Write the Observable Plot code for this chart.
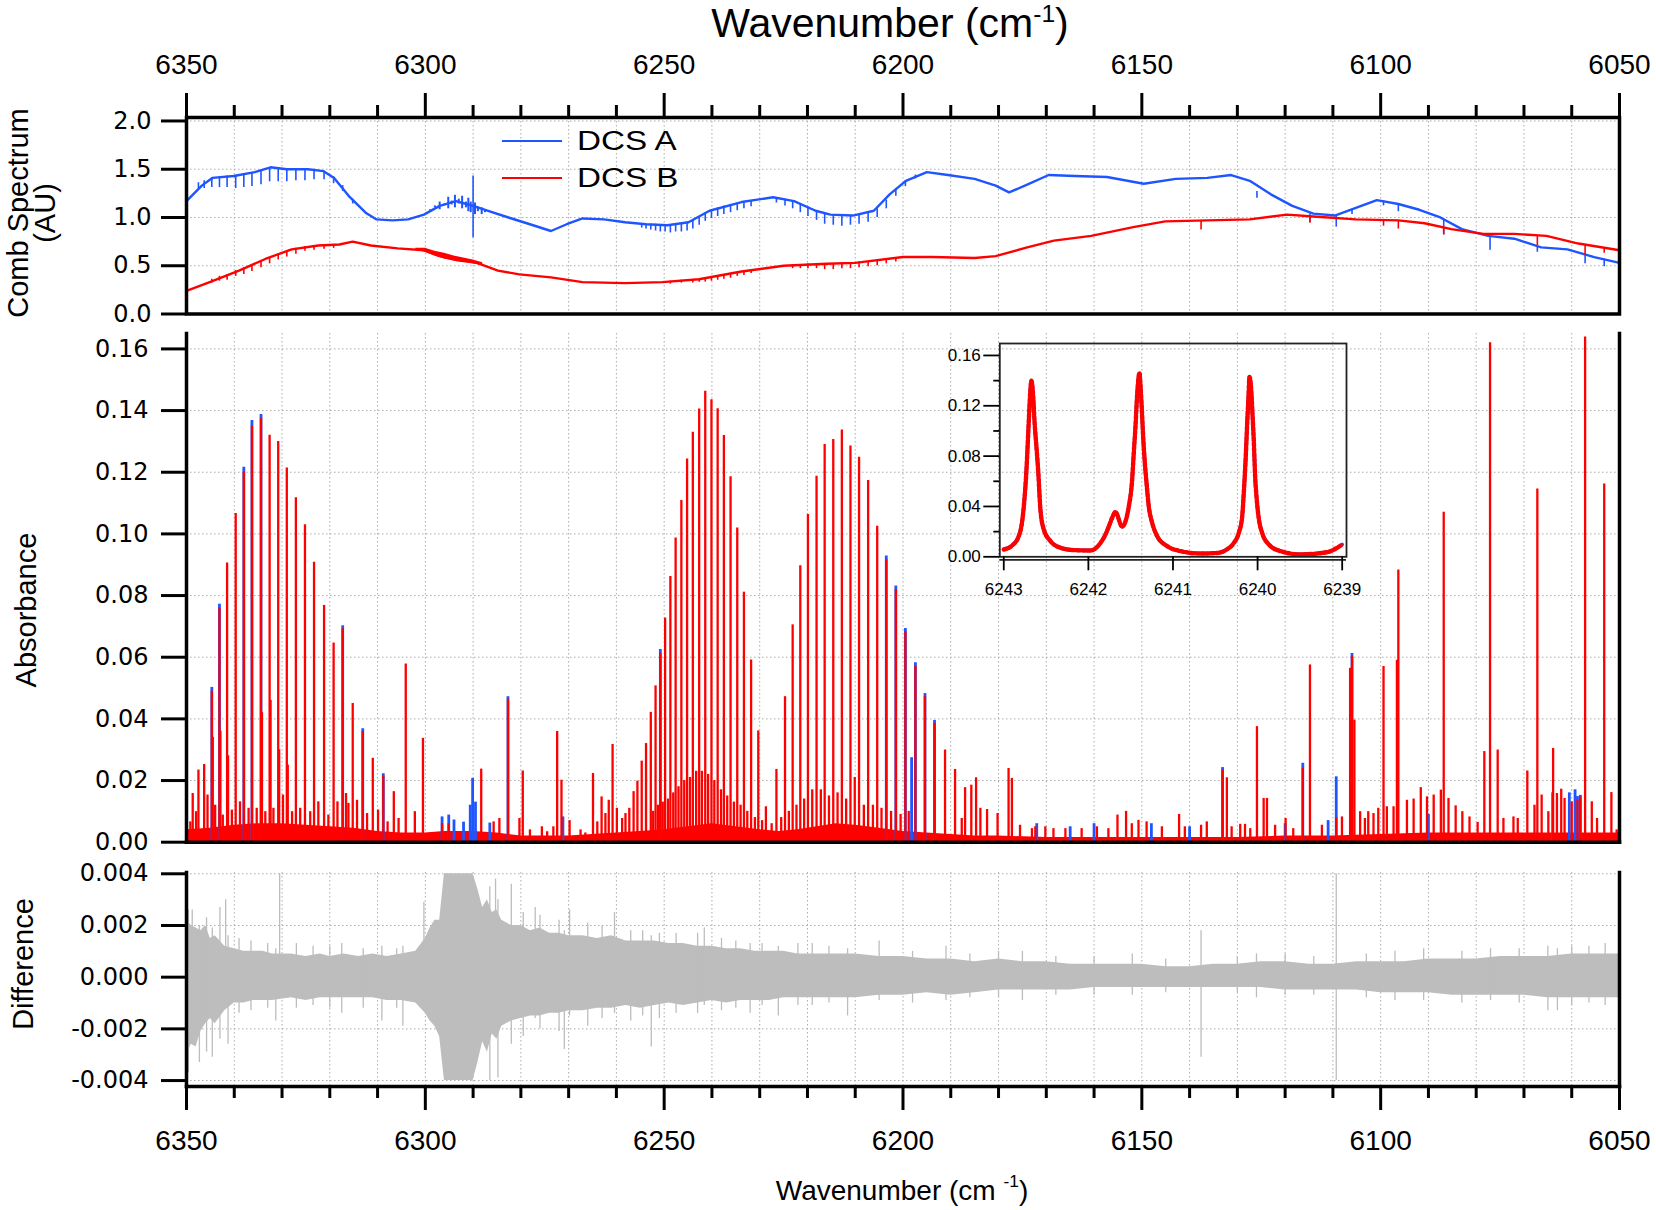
<!DOCTYPE html>
<html><head><meta charset="utf-8">
<script src="https://cdn.jsdelivr.net/npm/d3@7"></script>
<script src="https://cdn.jsdelivr.net/npm/@observablehq/plot@0.6"></script>
<style>
body{margin:0;background:#fff;}
#wrap{position:relative;width:1656px;height:1210px;overflow:hidden;font-family:"Liberation Sans",Arial,sans-serif;color:#000;}
.abs{position:absolute;white-space:nowrap;}
svg{position:absolute;}
</style></head><body><div id="wrap"></div>
<script>
// ---------- axis ticks ----------
const xMajor = [6350, 6300, 6250, 6200, 6150, 6100, 6050];
const xMinor = [6340,6330,6320,6310,6290,6280,6270,6260,6240,6230,6220,6210,6190,6180,6170,6160,6140,6130,6120,6110,6090,6080,6070,6060];
const xGrid = [6340,6330,6320,6310,6300,6290,6280,6270,6260,6250,6240,6230,6220,6210,6200,6190,6180,6170,6160,6150,6140,6130,6120,6110,6100,6090,6080,6070,6060];
const combTicks = [0, 0.5, 1.0, 1.5, 2.0];
const absTicks = [0, 0.02, 0.04, 0.06, 0.08, 0.10, 0.12, 0.14, 0.16];
const diffTicks = [-0.004, -0.002, 0, 0.002, 0.004];
const insetXTicks = [6243, 6242, 6241, 6240, 6239];
const insetYTicks = [0, 0.04, 0.08, 0.12, 0.16];
const insetYMinor = [0.02, 0.06, 0.10, 0.14];

// ---------- top panel: comb spectra ----------
const combAwn = [6350,6346.8,6344.6,6340.1,6335.7,6332.4,6329,6324.6,6321.3,6319.1,6315.8,6312.5,6310.2,6306.9,6303.6,6300.3,6297,6293.6,6291.4,6290,6287,6282.6,6278.1,6273.7,6270.4,6267.1,6262.6,6258.2,6253.8,6249.3,6244.9,6240.5,6233.8,6227.2,6222.8,6218.3,6215.2,6210.5,6206.1,6202.8,6199.4,6195,6190.6,6185,6180.6,6177.8,6174,6169.5,6164,6157.3,6149.6,6142.9,6136.3,6131.3,6127.4,6123,6118.5,6114.1,6109.6,6105.2,6100.8,6096.3,6091.9,6087.5,6083,6077.5,6072,6066.4,6060.9,6055.3,6050];
const combA = [1.17,1.33,1.41,1.43,1.47,1.52,1.50,1.50,1.48,1.41,1.21,1.05,0.98,0.97,0.98,1.03,1.12,1.17,1.14,1.12,1.07,1.00,0.93,0.86,0.93,0.99,0.98,0.95,0.93,0.92,0.95,1.07,1.16,1.21,1.17,1.07,1.03,1.02,1.07,1.24,1.38,1.47,1.44,1.40,1.33,1.26,1.34,1.44,1.43,1.42,1.35,1.40,1.41,1.44,1.38,1.24,1.12,1.04,1.02,1.10,1.18,1.14,1.08,1.00,0.88,0.81,0.78,0.69,0.67,0.59,0.53];
const combBwn = [6350,6344.6,6339,6333.5,6328,6322.4,6318,6315.2,6311.4,6305.8,6300.3,6297,6293.6,6289.2,6284.8,6280.3,6273.7,6267.1,6258.2,6250.4,6242.7,6233.8,6225,6216,6210,6200,6193.9,6185,6180.6,6174,6168.4,6160.6,6151.8,6145.1,6136.3,6127.4,6119.6,6114.1,6105.2,6096.3,6090.8,6085.2,6078.5,6072,6065.3,6058.6,6050];
const combB = [0.24,0.34,0.45,0.57,0.67,0.71,0.72,0.75,0.71,0.68,0.66,0.60,0.56,0.53,0.45,0.41,0.38,0.33,0.32,0.33,0.36,0.44,0.50,0.52,0.53,0.59,0.59,0.58,0.60,0.69,0.76,0.81,0.90,0.96,0.97,0.98,1.03,1.01,0.98,0.97,0.94,0.88,0.83,0.83,0.81,0.73,0.66];
// comb-line dips: position, top, bottom
const dipAwn = [6347.5,6346.3,6344.7,6343.1,6341.5,6339.7,6338.0,6336.3,6334.4,6332.6,6330.8,6329.0,6327.1,6325.2,6323.3,6321.2,6319.2,6317.3,6315.2,6254.7,6253.8,6252.8,6251.8,6250.8,6249.8,6248.7,6247.6,6246.4,6245.2,6244.0,6242.67,6241.4,6240.1,6238.8,6237.5,6236.1,6234.7,6233.3,6231.8,6226.5,6224.7,6223.1,6221.5,6219.9,6218.1,6216.4,6214.6,6212.8,6211.0,6209.2,6207.3,6205.4,6203.5,6201.5,6199.5,6197.4,6125.9,6114.8,6109.3,6106.0,6099.4,6096.3,6086.8,6077.1,6067.2,6057.2,6053.2];
const dipAhi = [1.36,1.38,1.41,1.42,1.43,1.43,1.44,1.46,1.49,1.51,1.51,1.50,1.50,1.50,1.50,1.48,1.42,1.33,1.19,0.93,0.93,0.93,0.93,0.92,0.92,0.92,0.93,0.93,0.95,0.97,1.01,1.05,1.08,1.10,1.12,1.13,1.15,1.16,1.17,1.20,1.19,1.17,1.14,1.11,1.07,1.04,1.03,1.02,1.02,1.03,1.05,1.09,1.18,1.30,1.38,1.44,1.27,1.04,1.02,1.08,1.17,1.14,0.98,0.81,0.70,0.62,0.57];
const dipAlo = [1.30,1.30,1.31,1.31,1.31,1.30,1.31,1.32,1.34,1.37,1.37,1.37,1.38,1.38,1.39,1.39,1.35,1.27,1.14,0.89,0.88,0.87,0.86,0.85,0.85,0.84,0.85,0.85,0.86,0.88,0.92,0.96,0.99,1.01,1.03,1.05,1.07,1.09,1.11,1.15,1.12,1.09,1.05,1.01,0.97,0.93,0.92,0.91,0.92,0.93,0.95,1.00,1.09,1.22,1.32,1.40,1.20,0.95,0.90,1.03,1.12,1.06,0.82,0.66,0.64,0.52,0.49];
const dipBwn = [6344.7,6343.1,6341.5,6339.7,6338.0,6336.3,6334.4,6332.6,6330.8,6329.0,6327.1,6325.2,6323.3,6321.2,6319.2,6248.7,6246.4,6244.0,6242.67,6241.4,6240.1,6238.8,6237.5,6236.1,6234.7,6233.3,6231.8,6223.1,6221.5,6219.9,6218.1,6216.4,6214.6,6212.8,6211.0,6209.2,6207.3,6205.4,6203.5,6201.5,6137.6,6114.8,6099.4,6096.3,6086.8,6067.2,6057.2,6053.2];
const dipBhi = [0.36,0.39,0.41,0.45,0.48,0.51,0.55,0.58,0.62,0.65,0.68,0.70,0.71,0.71,0.72,0.34,0.35,0.35,0.36,0.37,0.38,0.39,0.40,0.41,0.43,0.44,0.45,0.51,0.51,0.52,0.52,0.52,0.52,0.53,0.53,0.54,0.54,0.55,0.56,0.58,0.97,1.01,0.98,0.97,0.89,0.81,0.71,0.68];
const dipBlo = [0.32,0.34,0.35,0.39,0.41,0.44,0.48,0.52,0.56,0.59,0.62,0.65,0.66,0.67,0.68,0.31,0.32,0.32,0.33,0.33,0.34,0.35,0.36,0.37,0.39,0.40,0.42,0.47,0.47,0.47,0.47,0.46,0.46,0.47,0.47,0.48,0.49,0.50,0.52,0.54,0.87,0.94,0.91,0.88,0.82,0.71,0.61,0.63];
// noisy stretches near 6295 cm-1 (position, low, high)
const noiseAwn = [6299,6298,6297,6296,6295.2,6294.5,6293.8,6293,6292.3,6291.5,6291,6290.5,6289.6,6289,6288.2,6287.5];
const noiseAlo = [1.06,1.10,1.08,1.12,1.09,1.13,1.10,1.14,1.09,1.10,1.06,1.05,1.03,1.06,1.03,1.05];
const noiseAhi = [1.08,1.12,1.16,1.14,1.21,1.17,1.23,1.19,1.22,1.16,1.20,1.16,1.15,1.11,1.10,1.08];
const noiseBwn = [6302,6300,6298,6296,6294,6292,6290,6288];
const noiseBlo = [0.66,0.64,0.60,0.57,0.55,0.54,0.52,0.50];
const noiseBhi = [0.68,0.68,0.65,0.63,0.60,0.58,0.56,0.53];
const spikeAwn = [6290.0];
const spikeAlo = [0.79];
const spikeAhi = [1.43];

// ---------- middle panel: absorbance (DCS B red, DCS A blue) ----------
const peakWn = [6348.7,6347.5,6346.3,6344.7,6343.1,6341.5,6339.7,6338.0,6336.3,6334.4,6332.6,6330.8,6329.0,6327.1,6325.2,6323.3,6321.2,6319.2,6317.3,6315.2,6313.1,6311.0,6308.8,6306.6,6304.1,6302.2,6300.5,
 6349.2,6348.0,6345.6,6344.0,6342.4,6340.5,6338.8,6337.0,6335.3,6333.5,6331.8,6329.8,6327.9,6326.2,6324.1,6322.4,6320.3,6318.4,6316.6,6316.1,6314.3,6312.2,6309.9,6307.9,6305.6,
 6344.5,6342.9,6341.3,6334.2,6332.4,6330.6,6328.8,
 6296.5,6295.1,6288.3,6285.7,6284.5,6282.7,6280.3,6279.6,6278.1,6275.6,6274.5,6273.2,6272.4,6271.5,6269.8,6267.5,6266.5,6264.9,6264.0,6263.1,6262.3,6261.6,6260.8,6259.9,6258.8,6258.1,6257.3,6256.4,6255.6,
 6254.7,6253.8,6252.8,6251.8,6250.8,6249.8,6248.7,6247.6,6246.4,6245.2,6244.0,6242.67,6241.4,6240.1,6238.8,6237.5,6236.1,6234.7,6233.3,6231.8,6230.3,6228.7,
 6252.3,6251.3,6250.3,6249.2,6248.1,6247.0,6245.8,6244.6,6243.3,6242.1,6240.8,6239.5,6238.1,6236.8,6235.4,6234.0,6232.6,6231.0,6229.5,6227.5,
 6226.5,6224.7,6223.1,6221.5,6219.9,6218.1,6216.4,6214.6,6212.8,6211.0,6209.2,6207.3,6205.4,6203.5,6201.5,6199.5,6197.4,6195.4,6193.4,6191.2,6189.1,6187.0,6185.7,6184.7,6182.4,6180.2,6177.9,6177.2,
 6225.5,6223.9,6222.3,6220.7,6219.0,6217.2,6215.5,6213.7,6211.9,6210.1,6208.2,6206.3,6204.5,6202.5,6200.5,6198.8,6187.7,6183.8,6175.5,6173.0,6170.2,6166.0,6159.4,6157.0,6152.1,6149.0,6145.8,6141.0,6136.4,6131.2,6127.3,
 6172.3,6168.5,6162.6,6155.1,6153.3,6150.7,6142.2,6137.6,6133.1,6132.2,6129.4,6128.4,6125.9,6124.5,6123.8,6122.1,6119.9,6118.3,6116.3,6114.8,6112.3,6109.3,6108.1,6106.4,6106.0,6105.5,6104.3,6103.3,6102.6,6101.5,6100.5,6099.4,6098.7,6097.3,6096.6,6096.3,
 6094.5,6093.1,6091.6,6090.3,6088.9,6087.4,6086.8,6085.8,6084.3,6082.9,6081.4,6079.7,6078.3,6077.1,6075.5,6074.3,6072.2,6071.3,6069.3,6067.8,6067.2,6066.3,6064.9,6063.9,6063.1,6062.2,6061.5,6060.0,6058.8,6058.2,6057.2,6055.8,6054.7,6053.2,6051.7,6050.6];
const peakAbs = [0.0158,0.0234,0.0252,0.049,0.076,0.0906,0.1066,0.120,0.135,0.1375,0.132,0.130,0.1214,0.1117,0.103,0.0908,0.0768,0.0646,0.0692,0.045,0.0359,0.0272,0.0214,0.0164,0.0578,0.0099,0.0337,
 0.0066,0.0099,0.0153,0.012,0.0088,0.0104,0.0131,0.011,0.011,0.0099,0.011,0.0153,0.0099,0.011,0.0099,0.0131,0.0088,0.0131,0.0158,0.0126,0.0136,0.0093,0.0104,0.0066,0.0077,
 0.034,0.036,0.028,0.042,0.046,0.030,0.025,
 0.006,0.006,0.0237,0.0066,0.0077,0.0464,0.0077,0.0231,0.004,0.005,0.0034,0.005,0.0359,0.0201,0.007,0.004,0.003,0.0223,0.0066,0.0147,0.0093,0.0136,0.0317,0.011,0.0077,0.0093,0.011,0.0164,0.0198,
 0.0263,0.032,0.0421,0.0507,0.0613,0.0727,0.0862,0.0987,0.1108,0.1243,0.133,0.1405,0.1463,0.1435,0.1406,0.1319,0.1185,0.1019,0.0811,0.0591,0.0361,0.0115,
 0.010,0.012,0.013,0.014,0.016,0.018,0.020,0.021,0.023,0.023,0.022,0.020,0.017,0.015,0.013,0.012,0.010,0.008,0.007,0.006,
 0.0236,0.0472,0.0705,0.0897,0.1063,0.1187,0.129,0.1306,0.1337,0.1285,0.1249,0.1173,0.1025,0.0916,0.0819,0.0683,0.057,0.0472,0.0386,0.0299,0.0236,0.0177,0.0185,0.0209,0.0106,0.0093,0.0239,0.0207,
 0.008,0.010,0.012,0.014,0.017,0.017,0.015,0.016,0.014,0.021,0.012,0.012,0.011,0.010,0.009,0.010,0.0077,0.011,0.0055,0.0044,0.005,0.0044,0.005,0.0044,0.006,0.0066,0.005,0.005,0.0066,0.005,0.0044,
 0.005,0.0044,0.0044,0.0088,0.010,0.0071,0.009,0.0055,0.0234,0.0209,0.0058,0.0058,0.0375,0.0142,0.0142,0.0055,0.0077,0.0044,0.024,0.0575,0.0055,0.008,0.0082,0.0564,0.0602,0.0396,0.0099,0.0077,0.0099,0.0093,0.011,0.057,0.0115,0.0115,0.059,0.0883,
 0.0136,0.014,0.0177,0.0147,0.0153,0.0169,0.107,0.0142,0.0118,0.0099,0.0082,0.0064,0.0294,0.162,0.0299,0.0077,0.0082,0.0077,0.0231,0.012,0.1146,0.0153,0.0099,0.0304,0.0158,0.0172,0.0142,0.0131,0.0136,0.0147,0.1639,0.0131,0.0077,0.1162,0.0161,0.004];
// where DCS A (blue) shows above DCS B
const blueWn = [6344.7,6343.1,6338.0,6336.3,6334.4,6317.3,6313.1,6308.8,6296.5,6295.1,6294.0,6292.0,6290.6,6290.1,6289.5,6286.5,6282.7,6271.2,6250.8,6203.5,6201.5,6199.5,6198.2,6197.4,6195.4,6193.4,6172.0,6165.0,6160.0,6148.0,6140.0,6133.1,6120.0,6116.3,6111.0,6109.3,6106.0,6090.0,6064.0,6060.5,6059.3,6058.8,6058.2];
const blueAbs = [0.0502,0.0772,0.1216,0.1368,0.1387,0.0702,0.0368,0.0222,0.0082,0.0088,0.0072,0.0065,0.012,0.0207,0.013,0.0062,0.0472,0.0082,0.0625,0.0928,0.0831,0.0693,0.0274,0.0582,0.0482,0.0395,0.006,0.005,0.006,0.006,0.005,0.0242,0.006,0.0256,0.007,0.0212,0.0612,0.009,0.016,0.016,0.017,0.0148,0.0152];
// dense low-level absorption floor
const baseWn = [6350,6345,6340,6335,6330,6325,6320,6315,6310,6305,6300,6296,6290,6285,6280,6275,6270,6265,6260,6255,6250,6245,6240,6235,6230,6226,6222,6218,6214,6210,6205,6200,6195,6190,6185,6180,6170,6150,6130,6120,6110,6100,6090,6080,6070,6060,6050];
const baseAbs = [0.004,0.0045,0.0055,0.006,0.006,0.0055,0.005,0.0045,0.0035,0.003,0.003,0.0035,0.0035,0.003,0.002,0.002,0.002,0.0025,0.003,0.0035,0.004,0.005,0.006,0.005,0.004,0.0035,0.004,0.005,0.006,0.0055,0.0045,0.0035,0.003,0.0025,0.002,0.002,0.0015,0.0015,0.0015,0.002,0.002,0.0025,0.003,0.003,0.003,0.003,0.003];

// ---------- inset: zoom on 6243-6239 cm-1 ----------
const insetWn = [6243.000,6242.901,6242.823,6242.783,6242.756,6242.732,6242.716,6242.700,6242.685,6242.673,6242.653,6242.637,6242.610,6242.594,6242.567,6242.527,6242.448,6242.330,6242.172,6241.975,6241.857,6241.798,6241.759,6241.719,6241.680,6241.601,6241.522,6241.483,6241.463,6241.443,6241.424,6241.396,6241.384,6241.369,6241.353,6241.333,6241.313,6241.286,6241.246,6241.187,6241.069,6240.911,6240.675,6240.478,6240.360,6240.281,6240.222,6240.182,6240.163,6240.143,6240.123,6240.107,6240.096,6240.076,6240.060,6240.044,6240.029,6240.013,6239.985,6239.946,6239.867,6239.729,6239.493,6239.177,6239.059,6239.000];
const insetAbs = [0.0058,0.009,0.0164,0.028,0.0456,0.069,0.091,0.114,0.133,0.140,0.128,0.108,0.084,0.069,0.0376,0.0217,0.0125,0.0072,0.0053,0.005,0.011,0.0177,0.024,0.031,0.0355,0.024,0.040,0.061,0.083,0.104,0.128,0.146,0.136,0.118,0.096,0.075,0.059,0.040,0.027,0.0164,0.0085,0.0045,0.0026,0.003,0.006,0.011,0.019,0.032,0.051,0.075,0.106,0.128,0.143,0.133,0.113,0.091,0.064,0.048,0.030,0.019,0.0098,0.0045,0.0019,0.0037,0.0072,0.0098];

// ---------- bottom panel: difference envelope ----------
const diffWn = [6350,6349,6348,6347,6346,6345,6344,6342,6340,6338,6336,6334,6332,6328,6325,6322,6320,6317,6314,6311,6308,6305,6302,6300,6299,6298,6297,6296,6290,6289,6288,6287,6286,6285,6284,6282,6280,6278,6276,6274,6272,6270,6267,6264,6261,6258,6255,6252,6249,6246,6243,6240,6237,6234,6231,6228,6225,6222,6218,6215,6210,6205,6200,6195,6190,6185,6180,6175,6170,6165,6160,6155,6150,6145,6140,6135,6130,6125,6120,6115,6110,6105,6100,6095,6090,6085,6080,6075,6070,6065,6060,6055,6050];
const diffHi = [0.0022,0.0020,0.0019,0.0018,0.0020,0.0015,0.0016,0.0012,0.0011,0.0010,0.0010,0.0010,0.0009,0.0009,0.0008,0.0009,0.0008,0.0009,0.0008,0.0009,0.0008,0.0009,0.0010,0.0015,0.0019,0.0022,0.0022,0.0040,0.0040,0.0034,0.0027,0.0030,0.0025,0.0026,0.0022,0.0020,0.0020,0.0018,0.0019,0.0017,0.0017,0.0016,0.0016,0.0015,0.0016,0.0014,0.0014,0.0014,0.0013,0.0013,0.0012,0.0012,0.0011,0.0011,0.0010,0.0010,0.0010,0.0009,0.0009,0.0009,0.0009,0.0008,0.0008,0.0007,0.0007,0.0006,0.0007,0.0006,0.0006,0.0005,0.0005,0.0005,0.0005,0.0004,0.0004,0.0005,0.0005,0.0006,0.0006,0.0005,0.0005,0.0006,0.0006,0.0006,0.0007,0.0007,0.0007,0.0008,0.0008,0.0008,0.0009,0.0009,0.0009];
const diffLo = [-0.0030,-0.0026,-0.0027,-0.0021,-0.0018,-0.0016,-0.0018,-0.0013,-0.0010,-0.0010,-0.0009,-0.0009,-0.0009,-0.0008,-0.0009,-0.0008,-0.0008,-0.0008,-0.0008,-0.0008,-0.0009,-0.0009,-0.0010,-0.0014,-0.0017,-0.0019,-0.0023,-0.0040,-0.0040,-0.0033,-0.0025,-0.0029,-0.0022,-0.0024,-0.0019,-0.0017,-0.0016,-0.0015,-0.0015,-0.0014,-0.0014,-0.0013,-0.0013,-0.0012,-0.0012,-0.0011,-0.0012,-0.0011,-0.0010,-0.0011,-0.0010,-0.0009,-0.0010,-0.0009,-0.0009,-0.0009,-0.0008,-0.0008,-0.0008,-0.0008,-0.0008,-0.0007,-0.0007,-0.0006,-0.0007,-0.0006,-0.0005,-0.0005,-0.0005,-0.0005,-0.0004,-0.0004,-0.0004,-0.0004,-0.0004,-0.0004,-0.0004,-0.0004,-0.0005,-0.0005,-0.0005,-0.0005,-0.0006,-0.0006,-0.0006,-0.0007,-0.0007,-0.0007,-0.0007,-0.0008,-0.0008,-0.0008,-0.0008];
const spikeWn = [6349.6,6348.8,6347.3,6345.8,6344.6,6343.0,6341.8,6341.3,6339.0,6336.5,6333.0,6331.3,6330.5,6327.0,6323.5,6320.0,6317.5,6313.0,6309.1,6306.0,6304.7,6300.3,6286.5,6285.3,6284.8,6282.0,6279.5,6277.0,6276.0,6272.0,6270.9,6269.8,6266.0,6263.0,6260.4,6257.0,6254.5,6252.7,6251.0,6247.5,6243.0,6241.6,6238.0,6235.0,6232.0,6229.5,6226.1,6222.0,6219.0,6215.5,6211.6,6205.0,6198.0,6191.0,6186.0,6180.0,6175.0,6168.0,6160.0,6152.0,6145.0,6137.6,6130.0,6126.0,6120.0,6114.0,6109.3,6103.0,6097.0,6091.0,6083.0,6077.0,6071.0,6065.0,6063.0,6060.0,6056.4,6053.0];
const spikeLo = [-0.0037,-0.0010,-0.0033,-0.0029,-0.0031,-0.0024,-0.0012,-0.0026,-0.0014,-0.0013,-0.0012,-0.0017,-0.0008,-0.0012,-0.0011,-0.0012,-0.0014,-0.0012,-0.0017,-0.0012,-0.0019,-0.0012,-0.0040,-0.0020,-0.0039,-0.0026,-0.0023,-0.0016,-0.0020,-0.0021,-0.0028,-0.0015,-0.0019,-0.0016,-0.0014,-0.0017,-0.0015,-0.0027,-0.0016,-0.0014,-0.0014,-0.0011,-0.0013,-0.0012,-0.0014,-0.0011,-0.0015,-0.0011,-0.0011,-0.0010,-0.0015,-0.0009,-0.0010,-0.0009,-0.0008,-0.0008,-0.0009,-0.0007,-0.0007,-0.0007,-0.0006,-0.0031,-0.0006,-0.0008,-0.0007,-0.0007,-0.0040,-0.0008,-0.0009,-0.0009,-0.0010,-0.0009,-0.0010,-0.0013,-0.0013,-0.0011,-0.0010,-0.0011];
const spikeHi = [0.0026,0.0026,0.0020,0.0023,0.0019,0.0027,0.0030,0.0016,0.0015,0.0014,0.0013,0.0011,0.0040,0.0013,0.0012,0.0012,0.0013,0.0011,0.0012,0.0011,0.0012,0.0029,0.0035,0.0038,0.0030,0.0036,0.0025,0.0027,0.0024,0.0022,0.0018,0.0026,0.0021,0.0020,0.0025,0.0018,0.0018,0.0016,0.0017,0.0017,0.0017,0.0019,0.0015,0.0014,0.0013,0.0013,0.0012,0.0013,0.0013,0.0012,0.0011,0.0014,0.0010,0.0012,0.0009,0.0010,0.0010,0.0008,0.0008,0.0009,0.0007,0.0018,0.0008,0.0009,0.0009,0.0008,0.0040,0.0009,0.0010,0.0011,0.0010,0.0011,0.0011,0.0012,0.0011,0.0012,0.0012,0.0013];

// ---------- build ----------
const BLUE = "#1f55ff", RED = "#ff0000", GRAY = "#bdbdbd";
const wrap = document.getElementById("wrap");
const W = 1656, ML = 186, MR = 37;
const X = {domain: [6350, 6050]};
const grid = {stroke: "#ababab", strokeWidth: 1, strokeDasharray: "1.5,2.5"};
const yFont = {fontSize: 24, fontFamily: "DejaVu Sans"};
const xFont = {fontSize: 28, fontFamily: "Liberation Sans"};
const zip2 = (xs, ys) => xs.map((x, i) => ({x, y: ys[i]}));
const zip3 = (xs, lo, hi) => xs.map((x, i) => ({x, lo: lo[i], hi: hi[i]}));
function place(el, top, left) { el.style.top = top + "px"; el.style.left = left + "px"; wrap.appendChild(el); }
const svgStyle = {background: "transparent", overflow: "visible", fontFamily: "DejaVu Sans", fontSize: "24px", color: "black"};

const topPlot = Plot.plot({
  width: W, height: 290, marginLeft: ML, marginRight: MR, marginTop: 77, marginBottom: 16.5,
  x: X, y: {domain: [0, 2.036]}, style: svgStyle,
  marks: [
    Plot.ruleX(xGrid, grid),
    Plot.ruleY(combTicks.slice(1), grid),
    Plot.ruleX(zip3(noiseAwn, noiseAlo, noiseAhi), {x: "x", y1: "lo", y2: "hi", stroke: BLUE, strokeWidth: 2}),
    Plot.line(zip2(combAwn, combA), {x: "x", y: "y", stroke: BLUE, strokeWidth: 2.4}),
    Plot.ruleX(zip3(dipAwn, dipAlo, dipAhi), {x: "x", y1: "lo", y2: "hi", stroke: BLUE, strokeWidth: 1.6}),
    Plot.ruleX(zip3(spikeAwn, spikeAlo, spikeAhi), {x: "x", y1: "lo", y2: "hi", stroke: BLUE, strokeWidth: 1.6}),
    Plot.areaY(zip3(noiseBwn, noiseBlo, noiseBhi), {x: "x", y1: "lo", y2: "hi", fill: RED}),
    Plot.line(zip2(combBwn, combB), {x: "x", y: "y", stroke: RED, strokeWidth: 2.4}),
    Plot.ruleX(zip3(dipBwn, dipBlo, dipBhi), {x: "x", y1: "lo", y2: "hi", stroke: RED, strokeWidth: 1.6}),
    Plot.frame({stroke: "black", strokeWidth: 3.5}),
    Plot.axisX({anchor: "top", ticks: xMajor, tickSize: 25, tickPadding: 19, tickFormat: d => String(d), strokeWidth: 3, label: null, ...xFont}),
    Plot.axisX({anchor: "top", ticks: xMinor, tickSize: 13, tickFormat: () => "", strokeWidth: 3, label: null}),
    Plot.axisY({anchor: "left", ticks: combTicks, tickSize: 25, tickPadding: 10, tickFormat: d => d.toFixed(1), strokeWidth: 3, label: null, ...yFont})
  ]
});
place(topPlot, 40, 0);

const midPlot = Plot.plot({
  width: W, height: 530, marginLeft: ML, marginRight: MR, marginTop: 3, marginBottom: 18.3,
  x: {...X, axis: null}, y: {domain: [0, 0.165]}, style: svgStyle,
  marks: [
    Plot.ruleX(xGrid, grid),
    Plot.ruleY(absTicks.slice(1), grid),
    Plot.areaY(zip2(baseWn, baseAbs), {x: "x", y: "y", fill: RED}),
    Plot.ruleX(zip2(blueWn, blueAbs), {x: "x", y1: 0, y2: "y", stroke: BLUE, strokeWidth: 2.8}),
    Plot.ruleX(zip2(peakWn, peakAbs), {x: "x", y1: 0, y2: "y", stroke: RED, strokeWidth: 2.3}),
    Plot.frame({anchor: "left", strokeWidth: 3.5}),
    Plot.frame({anchor: "right", strokeWidth: 3.5}),
    Plot.frame({anchor: "bottom", strokeWidth: 3.5}),
    Plot.axisY({anchor: "left", ticks: absTicks, tickSize: 25, tickPadding: 13, tickFormat: d => d.toFixed(2), strokeWidth: 3, label: null, ...yFont})
  ]
});
place(midPlot, 330, 0);

const botPlot = Plot.plot({
  width: W, height: 300, marginLeft: ML, marginRight: MR, marginTop: 12, marginBottom: 74,
  x: X, y: {domain: [-0.00423, 0.00405]}, style: svgStyle,
  marks: [
    Plot.ruleX(xGrid, grid),
    Plot.ruleY(diffTicks, grid),
    Plot.areaY(zip3(diffWn, diffLo, diffHi), {x: "x", y1: "lo", y2: "hi", fill: GRAY}),
    Plot.ruleX(zip3(spikeWn, spikeLo, spikeHi), {x: "x", y1: "lo", y2: "hi", stroke: GRAY, strokeWidth: 1.3}),
    Plot.frame({anchor: "left", strokeWidth: 3.5}),
    Plot.frame({anchor: "right", strokeWidth: 3.5}),
    Plot.frame({anchor: "bottom", strokeWidth: 3.5}),
    Plot.axisX({anchor: "bottom", ticks: xMajor, tickSize: 24, tickPadding: 20, tickFormat: d => String(d), strokeWidth: 3, label: null, ...xFont}),
    Plot.axisX({anchor: "bottom", ticks: xMinor, tickSize: 12, tickFormat: () => "", strokeWidth: 3, label: null}),
    Plot.axisY({anchor: "left", ticks: diffTicks, tickSize: 25, tickPadding: 13, tickFormat: d => d.toFixed(3), strokeWidth: 3, label: null, ...yFont})
  ]
});
place(botPlot, 860, 0);

const insetRows = zip2(insetWn, insetAbs);
const insetPlot = Plot.plot({
  width: 430, height: 280, marginLeft: 69.3, marginRight: 14, marginTop: 13, marginBottom: 53.7,
  x: {domain: [6243.047, 6238.949]}, y: {domain: [0, 0.1695]},
  style: {...svgStyle, fontFamily: "Liberation Sans", fontSize: "17px"},
  marks: [
    Plot.line(insetRows, {x: "x", y: "y", stroke: BLUE, strokeWidth: 3.6, curve: "monotone-x"}),
    Plot.line(insetRows, {x: "x", y: "y", stroke: RED, strokeWidth: 4.4, strokeDasharray: "3.2,2", curve: "monotone-x"}),
    Plot.frame({stroke: "#222", strokeWidth: 1.8}),
    Plot.ruleY([0], {dy: 3, stroke: "#222", strokeWidth: 1.8}),
    Plot.axisX({anchor: "bottom", ticks: insetXTicks, tickSize: 14, tickPadding: 12, tickFormat: d => String(d), strokeWidth: 1.8, label: null, fontSize: 17, fontFamily: "Liberation Sans"}),
    Plot.axisY({anchor: "left", ticks: insetYTicks, tickSize: 16, tickPadding: 3, tickFormat: d => d.toFixed(2), strokeWidth: 1.8, label: null, fontSize: 17, fontFamily: "Liberation Sans"}),
    Plot.axisY({anchor: "left", ticks: insetYMinor, tickSize: 6, tickFormat: () => "", strokeWidth: 1.8, label: null})
  ]
});
place(insetPlot, 330, 930);

// ---------- text ----------
function addDiv(html, css) { const d = document.createElement("div"); d.className = "abs"; d.innerHTML = html; d.style.cssText += css; wrap.appendChild(d); return d; }
addDiv('Wavenumber (cm<sup style="font-size:0.6em;vertical-align:0.6em;line-height:0">-1</sup>)',
  'left:540px;top:0px;width:700px;text-align:center;font-family:"Liberation Sans";font-size:41px;line-height:normal;');
addDiv('Wavenumber (cm <sup style="font-size:0.62em;vertical-align:0.75em;line-height:0">-1</sup>)',
  'left:602px;top:1174px;width:600px;text-align:center;font-size:28px;line-height:34px;');
function vlabel(html, cx, cy, h) {
  addDiv(html, `left:${cx - 200}px;top:${cy - h / 2}px;width:400px;height:${h}px;text-align:center;font-size:29px;line-height:${h === 60 ? 27 : h}px;transform:rotate(-90deg);`);
}
vlabel('Comb Spectrum<br>(AU)', 35, 213, 60);
vlabel('Absorbance', 26, 610, 34);
vlabel('Difference', 23, 964, 34);
// legend
addDiv('', `left:502px;top:140px;width:60px;height:2px;background:${BLUE};`);
addDiv('', `left:502px;top:177px;width:60px;height:2px;background:${RED};`);
addDiv('DCS A', 'left:577px;top:124px;font-size:27px;line-height:34px;transform:scaleX(1.23);transform-origin:left center;');
addDiv('DCS B', 'left:577px;top:161px;font-size:27px;line-height:34px;transform:scaleX(1.23);transform-origin:left center;');
</script></body></html>
